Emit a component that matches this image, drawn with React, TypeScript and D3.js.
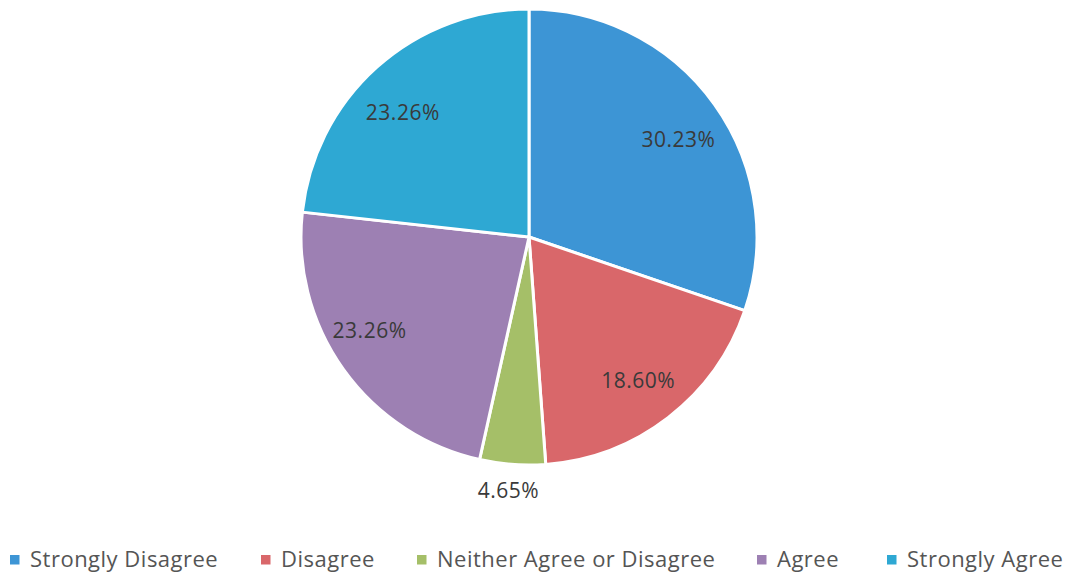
import React from "react";
import * as d3 from "d3";

const categories = ["Strongly Disagree", "Disagree", "Neither Agree or Disagree", "Agree", "Strongly Agree"];
const values = [30.23, 18.6, 4.65, 23.26, 23.26];
const labels = ["30.23%", "18.60%", "4.65%", "23.26%", "23.26%"];
const colors = ["#3d95d5", "#d9676a", "#a5bf68", "#9d80b3", "#2ea8d3"];
const outsideLabel = [false, false, true, false, false];
const labelNudge = [[3, 7], [-1, 0], [-2, -2], [-13, -12], [-6, 9]];
const legendX = [10, 261, 417, 757, 887];

const W = 1066;
const H = 574;
const cx = 529;
const cy = 237;
const R = 228;

export default function App() {
  const pie = d3.pie<number>().sort(null).value((d) => d)(values);
  const arc = d3.arc<d3.PieArcDatum<number>>().innerRadius(0).outerRadius(R);
  const labelArcIn = d3.arc<d3.PieArcDatum<number>>().innerRadius(R * 0.79).outerRadius(R * 0.79);
  const labelArcOut = d3.arc<d3.PieArcDatum<number>>().innerRadius(R + 28).outerRadius(R + 28);
  return (
    <svg width={W} height={H} style={{ position: "absolute", left: 0, top: 0, background: "#fff" }}
      fontFamily="'Open Sans', sans-serif">
      <g transform={`translate(${cx},${cy})`}>
        {pie.map((p, i) => (
          <path key={i} d={arc(p) || ""} fill={colors[i]} stroke="#fff" strokeWidth={3} strokeLinejoin="round" />
        ))}
        {pie.map((p, i) => {
          const [x, y] = (outsideLabel[i] ? labelArcOut : labelArcIn).centroid(p);
          return (
            <text key={i} x={x + labelNudge[i][0]} y={y + labelNudge[i][1]} textAnchor="middle"
              dominantBaseline="central" fontSize={21} letterSpacing={0.5} fill="#3a3a3a">
              {labels[i]}
            </text>
          );
        })}
      </g>
      <g>
        {categories.map((c, i) => (
          <g key={i} transform={`translate(${legendX[i]},0)`}>
            <rect x={0} y={555} width={9.5} height={9.5} fill={colors[i]} />
            <text x={20} y={567} fontSize={22} letterSpacing={0.5} fill="#555">
              {c}
            </text>
          </g>
        ))}
      </g>
    </svg>
  );
}
